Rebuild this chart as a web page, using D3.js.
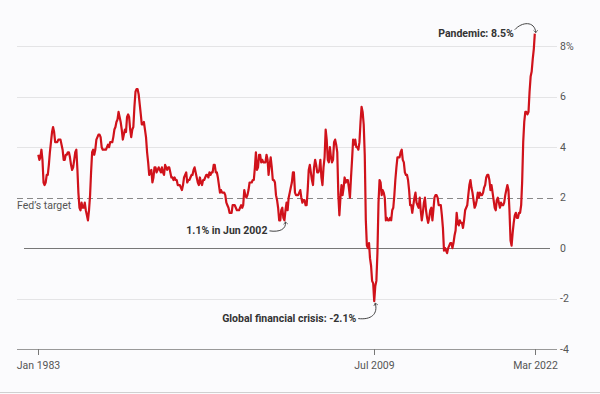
<!DOCTYPE html>
<html>
<head>
<meta charset="utf-8">
<script src="https://cdn.jsdelivr.net/npm/d3@7"></script>
<style>
  body { margin: 0; background: #fbfbfd; }
  text { font-family: Roboto, "Noto Sans", sans-serif; }
  .tick-label { font-size: 10.5px; fill: #555; }
  .note { font-size: 10.5px; font-weight: bold; fill: #333; }
</style>
</head>
<body>
<div id="canvas"></div>
<script>
"use strict"
// canvas size
let svgWidth = 600;
let svgHeight = 394;

// first month of the series
let startMonth = "1983-01";

// US CPI, year-over-year change (%), monthly from Jan 1983 to Mar 2022
let cpi1983to1992 = [
    3.7, 3.5, 3.6, 3.9, 3.5, 2.6, 2.5, 2.6, 2.9, 2.9, 3.3, 3.8,
    4.2, 4.6, 4.8, 4.6, 4.2, 4.2, 4.2, 4.3, 4.3, 4.3, 4.1, 3.9,
    3.5, 3.5, 3.7, 3.7, 3.8, 3.8, 3.6, 3.3, 3.1, 3.2, 3.5, 3.8,
    3.9, 3.1, 2.2, 1.6, 1.5, 1.8, 1.6, 1.6, 1.8, 1.5, 1.3, 1.1,
    1.5, 2.1, 3.0, 3.8, 3.9, 3.7, 3.9, 4.3, 4.4, 4.5, 4.5, 4.4,
    4.0, 3.9, 3.9, 3.9, 3.9, 4.0, 4.1, 4.0, 4.2, 4.2, 4.2, 4.4,
    4.7, 4.8, 5.0, 5.1, 5.4, 5.2, 5.0, 4.7, 4.3, 4.5, 4.7, 4.6,
    5.2, 5.3, 5.2, 4.7, 4.4, 4.7, 4.8, 5.6, 6.2, 6.3, 6.3, 6.1,
    5.7, 5.3, 4.9, 4.9, 5.0, 4.7, 4.4, 3.8, 3.4, 2.9, 3.0, 3.1,
    2.6, 2.8, 3.2, 3.2, 3.0, 3.1, 3.2, 3.1, 3.0, 3.2, 3.0, 2.9
];
let cpi1993to2002 = [
    3.3, 3.2, 3.1, 3.2, 3.2, 3.0, 2.8, 2.8, 2.7, 2.8, 2.7, 2.7,
    2.5, 2.5, 2.5, 2.4, 2.3, 2.5, 2.8, 2.9, 3.0, 2.6, 2.7, 2.7,
    2.8, 2.9, 2.9, 3.1, 3.2, 3.0, 2.8, 2.6, 2.5, 2.8, 2.6, 2.5,
    2.7, 2.7, 2.8, 2.9, 2.9, 2.8, 3.0, 2.9, 3.0, 3.0, 3.3, 3.3,
    3.0, 3.0, 2.8, 2.5, 2.2, 2.3, 2.2, 2.2, 2.2, 2.1, 1.8, 1.7,
    1.6, 1.4, 1.4, 1.4, 1.7, 1.7, 1.7, 1.6, 1.5, 1.5, 1.5, 1.6,
    1.7, 1.6, 1.7, 2.3, 2.1, 2.0, 2.1, 2.3, 2.6, 2.6, 2.6, 2.7,
    2.7, 3.2, 3.8, 3.1, 3.2, 3.7, 3.7, 3.4, 3.5, 3.4, 3.4, 3.4,
    3.7, 3.5, 2.9, 3.3, 3.6, 3.2, 2.7, 2.7, 2.6, 2.1, 1.9, 1.6,
    1.1, 1.1, 1.5, 1.6, 1.2, 1.1, 1.5, 1.8, 1.5, 2.0, 2.2, 2.4
];
let cpi2003to2012 = [
    2.6, 3.0, 3.0, 2.2, 2.1, 2.1, 2.1, 2.2, 2.3, 2.0, 1.8, 1.9,
    1.9, 1.7, 1.7, 2.3, 3.1, 3.3, 3.0, 2.7, 2.5, 3.2, 3.5, 3.3,
    3.0, 3.0, 3.1, 3.5, 2.8, 2.5, 3.2, 3.6, 4.7, 4.3, 3.5, 3.4,
    4.0, 3.6, 3.4, 3.5, 4.2, 4.3, 4.1, 3.8, 2.1, 1.3, 2.0, 2.5,
    2.1, 2.4, 2.8, 2.6, 2.7, 2.7, 2.4, 2.0, 2.8, 3.5, 4.3, 4.1,
    4.3, 4.0, 4.0, 3.9, 4.2, 5.0, 5.6, 5.4, 4.9, 3.7, 1.1, 0.1,
    0.0, 0.2, -0.4, -0.7, -1.3, -1.4, -2.1, -1.5, -1.3, -0.2, 1.8, 2.7,
    2.6, 2.1, 2.3, 2.2, 2.0, 1.1, 1.2, 1.1, 1.1, 1.2, 1.1, 1.5,
    1.6, 2.1, 2.7, 3.2, 3.6, 3.6, 3.6, 3.8, 3.9, 3.5, 3.4, 3.0,
    2.9, 2.9, 2.7, 2.3, 1.7, 1.7, 1.4, 1.7, 2.0, 2.2, 1.8, 1.7
];
let cpi2013to2022 = [
    1.6, 2.0, 1.5, 1.1, 1.4, 1.8, 2.0, 1.5, 1.2, 1.0, 1.2, 1.5,
    1.6, 1.1, 1.5, 2.0, 2.1, 2.1, 2.0, 1.7, 1.7, 1.7, 1.3, 0.8,
    -0.1, 0.0, -0.1, -0.2, 0.0, 0.1, 0.2, 0.2, 0.0, 0.2, 0.5, 0.7,
    1.4, 1.0, 0.9, 1.1, 1.0, 1.0, 0.8, 1.1, 1.5, 1.6, 1.7, 2.1,
    2.5, 2.7, 2.4, 2.2, 1.9, 1.6, 1.7, 1.9, 2.2, 2.0, 2.2, 2.1,
    2.1, 2.2, 2.4, 2.5, 2.8, 2.9, 2.9, 2.7, 2.3, 2.5, 2.2, 1.9,
    1.6, 1.5, 1.9, 2.0, 1.8, 1.6, 1.8, 1.7, 1.7, 1.8, 2.1, 2.3,
    2.5, 2.3, 1.5, 0.3, 0.1, 0.6, 1.0, 1.3, 1.4, 1.2, 1.2, 1.4,
    1.4, 1.7, 2.6, 4.2, 5.0, 5.4, 5.4, 5.3, 5.4, 6.2, 6.8, 7.0,
    7.5, 7.9, 8.5
];

// axis ticks
let yTicks = [-4, -2, 0, 2, 4, 6, 8];
let xTicks = ["1983-01", "2009-07", "2022-03"];
let fedTarget = 2;

// annotations: month, value, label
let notes = [
    { month: "2022-03", value: 8.5, label: "Pandemic: 8.5%" },
    { month: "2002-06", value: 1.1, label: "1.1% in Jun 2002" },
    { month: "2009-07", value: -2.1, label: "Global financial crisis: -2.1%" }
];

let parseMonth = d3.timeParse("%Y-%m");
let formatMonth = d3.timeFormat("%b %Y");

// build rows from the value lists
let allValues = cpi1983to1992.concat(cpi1993to2002, cpi2003to2012, cpi2013to2022);
let data = allValues.map(function(v, i) {
    return { date: d3.timeMonth.offset(parseMonth(startMonth), i), value: v };
});

let svg = d3.select("#canvas")
    .append("svg")
    .attr("width", svgWidth)
    .attr("height", svgHeight)

svg.append("rect")
    .attr("width", svgWidth)
    .attr("height", svgHeight)
    .attr("fill", "#fbfbfd")

// bottom border line
svg.append("line")
    .attr("x1", 0).attr("x2", svgWidth)
    .attr("y1", 392.5).attr("y2", 392.5)
    .attr("stroke", "#d0d0d0")

let xScale = d3.scaleTime()
    .domain([parseMonth("1983-01"), parseMonth("2022-03")])
    .range([38.3, 534.8]);

let yScale = d3.scaleLinear()
    .domain([-4, 8])
    .range([349, 46.3]);

let gridLeft = 17;
let gridRight = 557;

// gridlines
yTicks.forEach(function(t) {
    let y = Math.round(yScale(t)) + 0.5;
    let line = svg.append("line")
        .attr("y1", y).attr("y2", y);
    if (t == 0) {
        line.attr("x1", 24).attr("x2", 550).attr("stroke", "#777");
    } else if (t == -4) {
        line.attr("x1", gridLeft).attr("x2", gridRight).attr("stroke", "#999");
    } else if (t == fedTarget) {
        line.attr("x1", gridLeft).attr("x2", gridRight)
            .attr("stroke", "#888").attr("stroke-dasharray", "6,4");
    } else {
        line.attr("x1", gridLeft).attr("x2", gridRight).attr("stroke", "#e4e4e6");
    }

    svg.append("text")
        .attr("class", "tick-label")
        .attr("x", 560)
        .attr("y", yScale(t))
        .attr("dy", "0.35em")
        .text(t == 8 ? t + "%" : String(t));
});

// Fed's target label
svg.append("text")
    .attr("class", "tick-label")
    .attr("x", gridLeft)
    .attr("y", yScale(fedTarget) + 11)
    .text("Fed\u2019s target");

// x ticks
xTicks.forEach(function(m) {
    let x = Math.round(xScale(parseMonth(m))) + 0.5;
    svg.append("line")
        .attr("x1", x).attr("x2", x)
        .attr("y1", yScale(-4)).attr("y2", yScale(-4) + 6)
        .attr("stroke", "#777");
    svg.append("text")
        .attr("class", "tick-label")
        .attr("x", x)
        .attr("y", yScale(-4) + 16)
        .attr("dy", "0.35em")
        .attr("text-anchor", "middle")
        .text(formatMonth(parseMonth(m)));
});

// inflation line
let line = d3.line()
    .x(function(d) { return xScale(d.date); })
    .y(function(d) { return yScale(d.value); });

svg.append("path")
    .datum(data)
    .attr("d", line)
    .attr("fill", "none")
    .attr("stroke", "#d0121b")
    .attr("stroke-width", 2.2)
    .attr("stroke-linejoin", "round");

// arrow head
svg.append("defs").append("marker")
    .attr("id", "arrowHead")
    .attr("viewBox", "-5 -5 10 10")
    .attr("markerWidth", 7)
    .attr("markerHeight", 7)
    .attr("markerUnits", "userSpaceOnUse")
    .attr("orient", "auto")
    .append("path")
    .attr("d", "M-3.5,-3 L0,0 L-3.5,3")
    .attr("fill", "none")
    .attr("stroke", "#444")
    .attr("stroke-width", 1);

// annotations
notes.forEach(function(n, i) {
    let px = xScale(parseMonth(n.month));
    let py = yScale(n.value);
    let tx, ty, path;
    if (i == 0) {
        tx = px - 21; ty = py + 3;
        path = "M" + (px - 20) + "," + (py - 4) +
            " C" + (px - 13) + "," + (py - 12) + " " + (px) + "," + (py - 13) + " " + (px + 1) + "," + (py - 1);
    } else if (i == 1) {
        tx = px - 17; ty = py + 14;
        path = "M" + (px - 15) + "," + (py + 10.5) +
            " C" + (px - 5) + "," + (py + 12) + " " + (px + 2) + "," + (py + 9) + " " + (px + 1) + "," + (py + 1.5);
    } else {
        tx = px - 18; ty = py + 21;
        path = "M" + (px - 16) + "," + (py + 17.5) +
            " C" + (px - 3) + "," + (py + 19) + " " + (px + 4) + "," + (py + 13) + " " + (px + 1) + "," + (py + 2);
    }
    svg.append("path")
        .attr("d", path)
        .attr("fill", "none")
        .attr("stroke", "#444")
        .attr("stroke-width", 1)
        .attr("marker-end", "url(#arrowHead)");
    svg.append("text")
        .attr("class", "note")
        .attr("x", tx)
        .attr("y", ty)
        .attr("text-anchor", "end")
        .text(n.label);
});
</script>
</body>
</html>
